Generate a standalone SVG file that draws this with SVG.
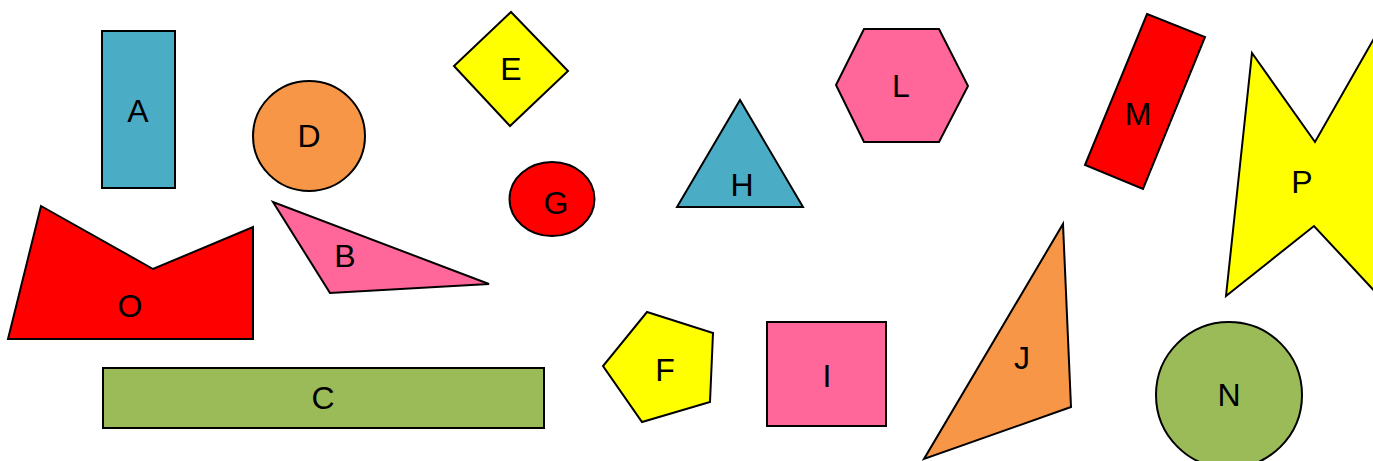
<svg xmlns="http://www.w3.org/2000/svg" width="1373" height="461" viewBox="0 0 1373 461">
<style>
.s{stroke:#000;stroke-width:2;stroke-linejoin:miter}
.blue{fill:#4BACC6}.orange{fill:#F79646}.green{fill:#9BBB59}.pink{fill:#FF6699}.yellow{fill:#FFFF00}.red{fill:#FF0000}
text{font-family:"Liberation Sans",Arial,sans-serif;font-size:32px;fill:#000;text-anchor:middle}
</style>
<rect width="1373" height="461" fill="#fff"/>
<g id="A"><rect class="s blue" x="102" y="31" width="73" height="157"/><text x="138" y="122">A</text></g>
<g id="D"><ellipse class="s orange" cx="309" cy="136" rx="56" ry="55"/><text x="309" y="147">D</text></g>
<g id="O"><polygon class="s red" points="41,206 153,269 253,227 253,339 8,339"/><text x="130" y="317">O</text></g>
<g id="B"><polygon class="s pink" points="273,202 330,293 489,284"/><text x="345" y="267">B</text></g>
<g id="C"><rect class="s green" x="103" y="368" width="441" height="60"/><text x="323" y="409">C</text></g>
<g id="E"><polygon class="s yellow" points="511,12 568,71 510,126 454,66"/><text x="511" y="80">E</text></g>
<g id="G"><ellipse class="s red" cx="552" cy="199" rx="42.5" ry="37"/><text x="556" y="214">G</text></g>
<g id="H"><polygon class="s blue" points="740,100 803,207 677,207"/><text x="742" y="196">H</text></g>
<g id="F"><polygon class="s yellow" points="647,312 713,333 710,402 642,422 603,366"/><text x="665" y="381">F</text></g>
<g id="I"><rect class="s pink" x="767" y="322" width="119" height="104"/><text x="827" y="387">I</text></g>
<g id="L"><polygon class="s pink" points="864,29 939,29 968,86 939,142 864,142 836,85"/><text x="901" y="97">L</text></g>
<g id="M"><polygon class="s red" points="1147,14 1205,37 1143,189 1085,165"/><text x="1138" y="125">M</text></g>
<g id="P"><polygon class="s yellow" points="1252,53 1315,142 1400,-7 1420,340 1314,226 1226,296"/><text x="1302" y="193">P</text></g>
<g id="J"><polygon class="s orange" points="1063,224 1071,407 924,459"/><text x="1022" y="369">J</text></g>
<g id="N"><circle class="s green" cx="1229" cy="395" r="73"/><text x="1229" y="406">N</text></g>
<g id="connectors"></g>
</svg>
